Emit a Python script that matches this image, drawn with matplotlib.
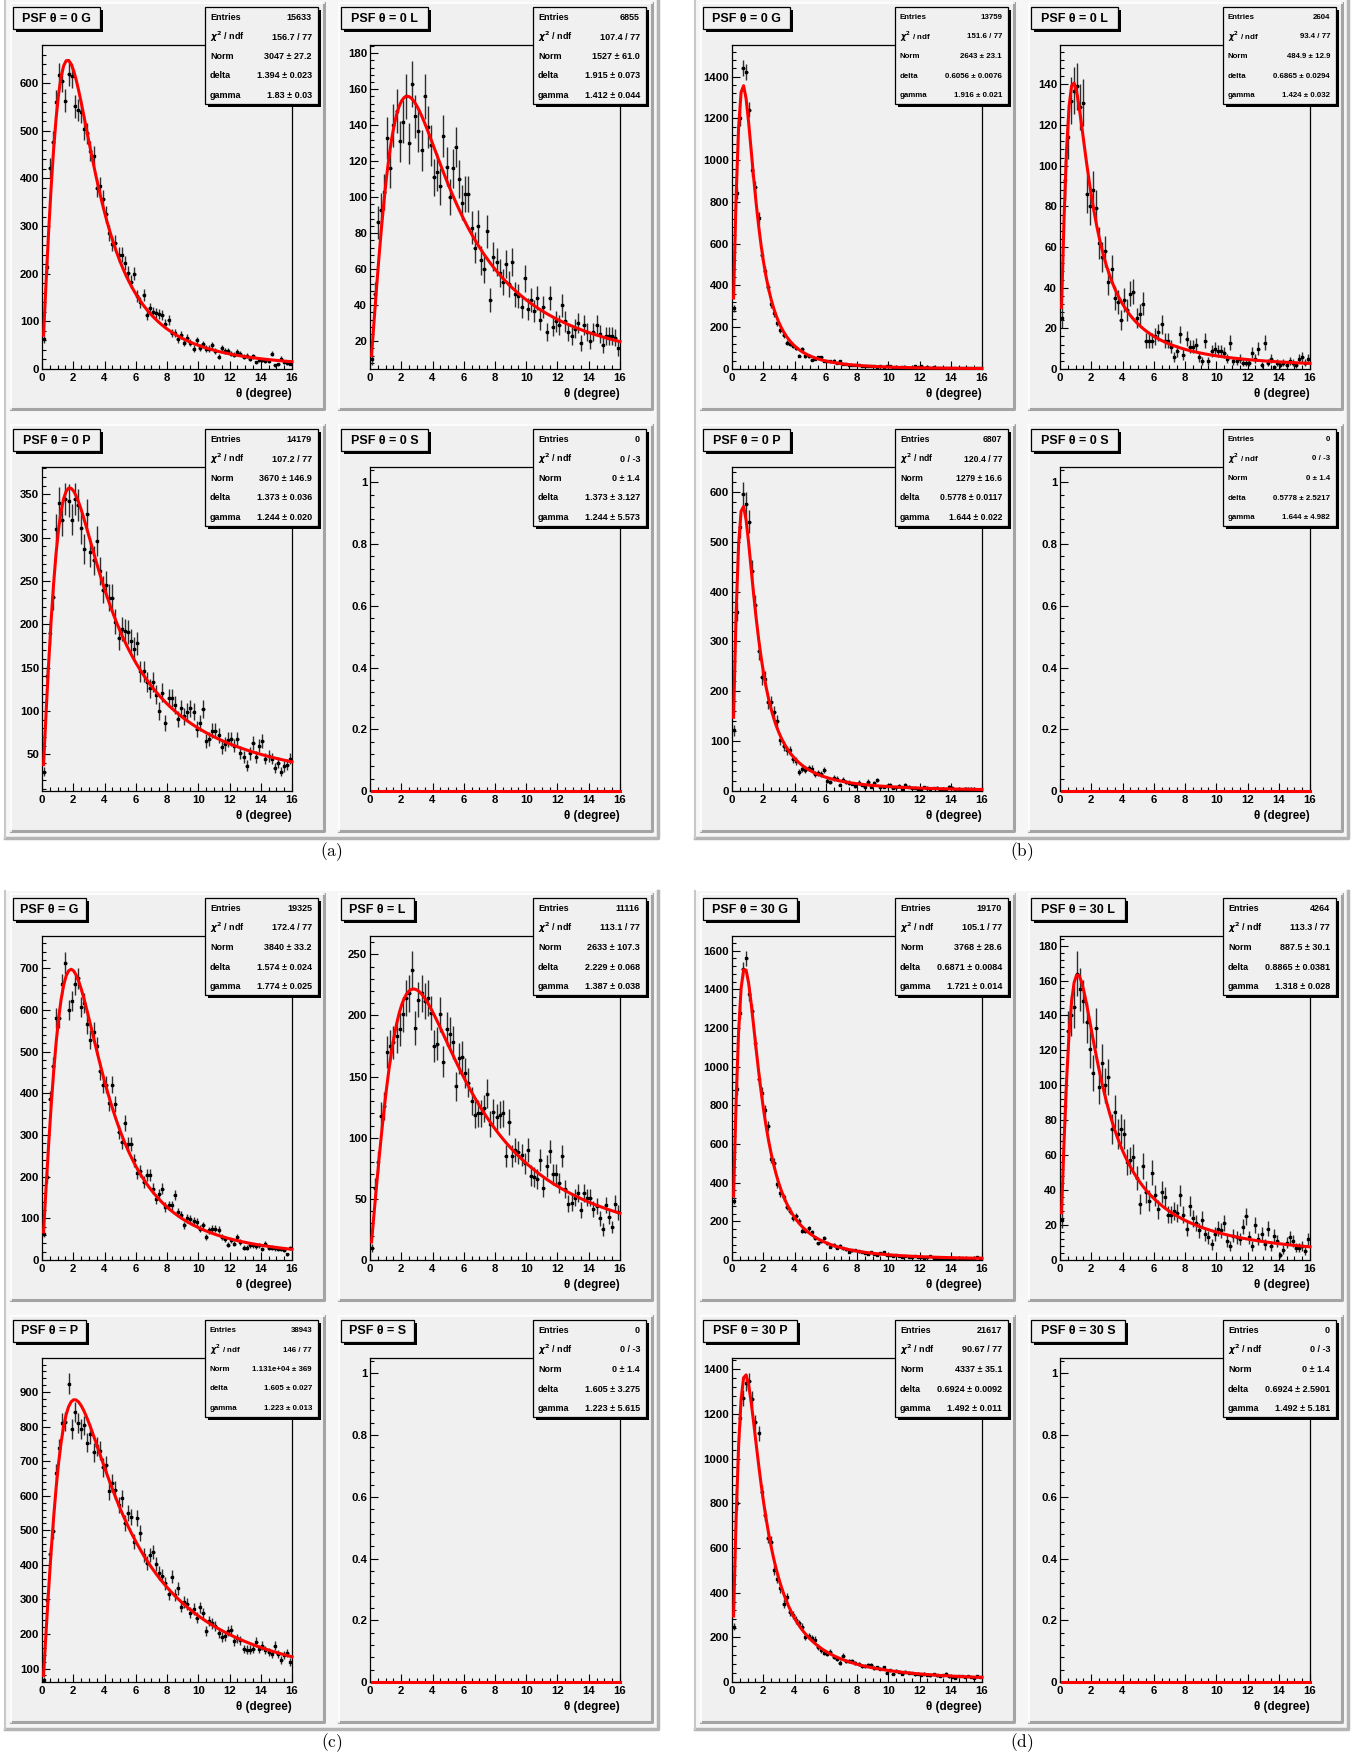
import numpy as np
import matplotlib
matplotlib.use('Agg')
import matplotlib.pyplot as plt
from matplotlib.patches import Rectangle
from matplotlib.lines import Line2D
from matplotlib.ticker import MultipleLocator, AutoMinorLocator, FuncFormatter

plt.rcParams['font.family'] = ['Liberation Sans', 'DejaVu Sans']
plt.rcParams['font.weight'] = 'bold'

W, H = 1366, 1754
theta_bins = np.arange(80) * 0.2 + 0.1    # bin centres, 0.2 deg bins from 0 to 16

# ---------------- data (80 bins per histogram) ----------------
counts_a_G = [62, 215, 422, 477, 561, 617, 605, 563, 619, 615,
              551, 543, 540, 503, 495, 457, 447, 380, 384, 357,
              325, 285, 263, 264, 240, 240, 222, 202, 183, 200,
              153, 140, 155, 113, 128, 120, 118, 116, 113, 95,
              103, 76, 76, 62, 72, 55, 66, 55, 43, 60,
              45, 52, 43, 43, 50, 38, 26, 44, 38, 38,
              32, 30, 36, 32, 26, 28, 22, 27, 14, 18,
              18, 16, 16, 32, 8, 10, 22, 15, 12, 11]
counts_a_L = [10, 46, 86, 93, 103, 133, 116, 140, 148, 131,
              142, 156, 130, 163, 145, 137, 126, 156, 139, 129,
              111, 114, 106, 134, 117, 100, 116, 128, 110, 97,
              102, 102, 83, 72, 84, 65, 60, 81, 43, 67,
              64, 58, 53, 63, 52, 64, 46, 45, 39, 55,
              38, 43, 37, 44, 32, 39, 25, 44, 28, 31,
              29, 40, 31, 25, 23, 27, 30, 19, 29, 25,
              20, 25, 29, 24, 18, 23, 23, 23, 22, 16]
counts_a_P = [30, 140, 190, 232, 310, 340, 320, 345, 343, 321,
              345, 338, 311, 287, 327, 283, 274, 296, 262, 240,
              246, 231, 231, 203, 184, 195, 192, 191, 181, 172,
              178, 146, 146, 133, 126, 134, 119, 100, 121, 86,
              115, 115, 107, 91, 103, 94, 99, 103, 99, 79,
              86, 102, 65, 68, 77, 77, 72, 58, 62, 67,
              68, 60, 68, 52, 47, 37, 51, 63, 47, 60,
              65, 45, 48, 45, 34, 40, 30, 36, 38, 45]
counts_b_G = [290, 845, 1200, 1440, 1424, 1243, 952, 870, 723, 547,
              470, 392, 312, 267, 219, 187, 163, 126, 120, 110,
              102, 64, 96, 62, 62, 43, 48, 56, 56, 40,
              38, 36, 40, 30, 38, 25, 22, 18, 20, 17,
              20, 15, 14, 12, 13, 12, 10, 14, 9, 13,
              15, 7, 8, 6, 9, 11, 6, 7, 12, 10,
              12, 6, 9, 5, 8, 6, 4, 5, 6, 3,
              5, 4, 3, 5, 4, 3, 4, 2, 3, 4]
counts_b_L = [25, 93, 114, 132, 137, 139, 129, 131, 86, 80,
              88, 79, 62, 55, 58, 43, 49, 35, 33, 24,
              34, 29, 37, 38, 25, 27, 32, 14, 14, 14,
              16, 18, 22, 14, 14, 11, 6, 9, 17, 7,
              15, 11, 11, 12, 6, 4, 14, 4, 9, 10,
              9, 9, 8, 5, 13, 4, 4, 5, 3, 3,
              3, 8, 5, 10, 2, 13, 3, 5, 1, 3,
              2, 3, 2, 4, 3, 2, 5, 6, 3, 5]
counts_b_P = [122, 360, 530, 595, 575, 540, 442, 374, 280, 228,
              225, 178, 178, 158, 140, 102, 90, 82, 82, 65,
              60, 38, 45, 42, 46, 45, 35, 36, 34, 42,
              21, 18, 26, 25, 13, 23, 18, 17, 15, 10,
              17, 13, 8, 19, 9, 16, 22, 8, 9, 11,
              12, 7, 8, 10, 5, 12, 9, 6, 7, 4,
              5, 8, 7, 4, 6, 7, 3, 5, 4, 9,
              7, 3, 4, 3, 5, 5, 5, 4, 3, 2]
counts_c_G = [62, 199, 386, 465, 582, 582, 662, 714, 601, 622,
              662, 676, 608, 617, 566, 529, 548, 514, 453, 421,
              421, 377, 421, 375, 307, 283, 329, 279, 279, 239,
              208, 213, 187, 204, 204, 171, 147, 159, 171, 127,
              131, 131, 156, 115, 108, 83, 100, 99, 93, 91,
              75, 83, 55, 71, 75, 75, 73, 55, 51, 37,
              47, 39, 56, 43, 30, 30, 35, 36, 33, 35,
              27, 39, 30, 30, 28, 26, 27, 25, 14, 29]
counts_c_L = [10, 59, 80, 118, 126, 170, 175, 178, 183, 189,
              201, 214, 218, 237, 190, 213, 218, 212, 214, 202,
              175, 177, 201, 162, 189, 185, 178, 142, 165, 166,
              153, 145, 130, 119, 120, 120, 124, 136, 111, 121,
              117, 119, 120, 85, 113, 85, 90, 88, 86, 79,
              90, 69, 68, 66, 82, 59, 77, 89, 70, 70,
              63, 85, 58, 46, 47, 51, 55, 41, 55, 51,
              51, 42, 44, 34, 25, 45, 35, 27, 46, 39]
counts_c_P = [66, 298, 432, 497, 666, 738, 811, 815, 925, 794,
              843, 811, 794, 804, 753, 779, 726, 743, 731, 682,
              688, 614, 637, 617, 574, 593, 521, 550, 540, 467,
              537, 492, 429, 405, 429, 438, 402, 376, 369, 347,
              315, 366, 313, 332, 279, 293, 286, 262, 272, 247,
              277, 260, 208, 238, 231, 224, 204, 192, 194, 208,
              211, 179, 187, 182, 156, 155, 155, 156, 177, 156,
              166, 153, 148, 141, 166, 141, 124, 139, 144, 119]
counts_d_G = [307, 883, 1280, 1503, 1560, 1378, 1288, 1124, 938, 864,
              774, 693, 523, 503, 394, 345, 325, 273, 256, 216,
              230, 204, 152, 152, 164, 143, 114, 86, 100, 112,
              86, 69, 78, 64, 74, 60, 55, 40, 50, 52,
              45, 40, 35, 32, 40, 30, 28, 35, 40, 26,
              25, 22, 24, 20, 18, 20, 15, 16, 22, 14,
              15, 12, 13, 20, 12, 10, 12, 9, 11, 8,
              10, 7, 9, 8, 6, 7, 5, 8, 14, 12]
counts_d_L = [23, 88, 131, 140, 145, 164, 155, 148, 136, 121,
              107, 133, 99, 113, 100, 105, 75, 85, 72, 75,
              72, 56, 57, 59, 47, 32, 54, 39, 34, 50,
              37, 29, 39, 36, 26, 26, 28, 27, 37, 26,
              18, 31, 24, 21, 17, 23, 15, 13, 9, 15,
              18, 17, 21, 11, 8, 14, 13, 12, 19, 25,
              13, 8, 20, 12, 15, 9, 18, 8, 14, 11,
              3, 6, 10, 13, 11, 7, 7, 8, 5, 12]
counts_d_P = [247, 800, 1180, 1273, 1340, 1345, 1267, 1163, 1113, 852,
              747, 646, 628, 501, 463, 419, 351, 381, 314, 299,
              277, 262, 247, 202, 206, 197, 190, 157, 142, 130,
              127, 135, 112, 102, 87, 117, 95, 93, 95, 85,
              80, 72, 70, 78, 75, 62, 65, 60, 65, 42,
              52, 36, 50, 45, 38, 45, 42, 40, 35, 38,
              32, 38, 33, 30, 34, 30, 28, 30, 38, 25,
              22, 18, 25, 28, 24, 26, 22, 18, 25, 23]

# titles and fit statistics, order G, L, P, S in each group
titles_a = ['PSF θ = 0 G', 'PSF θ = 0 L', 'PSF θ = 0 P', 'PSF θ = 0 S']
entries_a = ['15633', '6855', '14179', '0']
chi2_a = ['156.7 / 77', '107.4 / 77', '107.2 / 77', '0 / -3']
norm_a = ['3047 ± 27.2', '1527 ± 61.0', '3670 ± 146.9', '0 ± 1.4']
delta_a = ['1.394 ± 0.023', '1.915 ± 0.073', '1.373 ± 0.036', '1.373 ± 3.127']
gamma_a = ['1.83 ± 0.03', '1.412 ± 0.044', '1.244 ± 0.020', '1.244 ± 5.573']

titles_b = ['PSF θ = 0 G', 'PSF θ = 0 L', 'PSF θ = 0 P', 'PSF θ = 0 S']
entries_b = ['13759', '2604', '6807', '0']
chi2_b = ['151.6 / 77', '93.4 / 77', '120.4 / 77', '0 / -3']
norm_b = ['2643 ± 23.1', '484.9 ± 12.9', '1279 ± 16.6', '0 ± 1.4']
delta_b = ['0.6056 ± 0.0076', '0.6865 ± 0.0294', '0.5778 ± 0.0117', '0.5778 ± 2.5217']
gamma_b = ['1.916 ± 0.021', '1.424 ± 0.032', '1.644 ± 0.022', '1.644 ± 4.982']

titles_c = ['PSF θ = G', 'PSF θ = L', 'PSF θ = P', 'PSF θ = S']
entries_c = ['19325', '11116', '38943', '0']
chi2_c = ['172.4 / 77', '113.1 / 77', '146 / 77', '0 / -3']
norm_c = ['3840 ± 33.2', '2633 ± 107.3', '1.131e+04 ± 369', '0 ± 1.4']
delta_c = ['1.574 ± 0.024', '2.229 ± 0.068', '1.605 ± 0.027', '1.605 ± 3.275']
gamma_c = ['1.774 ± 0.025', '1.387 ± 0.038', '1.223 ± 0.013', '1.223 ± 5.615']

titles_d = ['PSF θ = 30 G', 'PSF θ = 30 L', 'PSF θ = 30 P', 'PSF θ = 30 S']
entries_d = ['19170', '4264', '21617', '0']
chi2_d = ['105.1 / 77', '113.3 / 77', '90.67 / 77', '0 / -3']
norm_d = ['3768 ± 28.6', '887.5 ± 30.1', '4337 ± 35.1', '0 ± 1.4']
delta_d = ['0.6871 ± 0.0084', '0.8865 ± 0.0381', '0.6924 ± 0.0092', '0.6924 ± 2.5901']
gamma_d = ['1.721 ± 0.014', '1.318 ± 0.028', '1.492 ± 0.011', '1.492 ± 5.181']

counts_a = [counts_a_G, counts_a_L, counts_a_P, None]
counts_b = [counts_b_G, counts_b_L, counts_b_P, None]
counts_c = [counts_c_G, counts_c_L, counts_c_P, None]
counts_d = [counts_d_G, counts_d_L, counts_d_P, None]

# axis ranges as drawn
ylims_a = [(0, 680), (4.6, 184.6), (7.6, 381.7), (0, 1.05)]
ylims_b = [(0, 1552), (0, 159.4), (0, 650), (0, 1.05)]
ylims_c = [(0, 778), (0, 265), (61, 999), (0, 1.05)]
ylims_d = [(0, 1676), (0, 185.5), (0, 1450), (0, 1.05)]
ysteps_a = [100, 20, 50, 0.2]
ysteps_b = [200, 20, 100, 0.2]
ysteps_c = [100, 50, 100, 0.2]
ysteps_d = [200, 20, 200, 0.2]

# ---------------- layout helpers (pixel coordinates, origin top left) ----------------
PAD_W, PAD_H = 313, 406
PAD_COLOR = '#f0f0f0'

fig = plt.figure(figsize=(W / 100, H / 100), dpi=100)
fig.patch.set_facecolor('white')


def frect(x, y, w, h):
    return [x / W, 1 - (y + h) / H, w / W, h / H]


def add_rect(x, y, w, h, **kw):
    fig.add_artist(Rectangle((x / W, 1 - (y + h) / H), w / W, h / H,
                             transform=fig.transFigure, **kw))


def add_line(xs, ys, **kw):
    fig.add_artist(Line2D([x / W for x in xs], [1 - y / H for y in ys],
                          transform=fig.transFigure, **kw))


def add_text(x, y, s, **kw):
    fig.text(x / W, 1 - y / H, s, **kw)


def king(th, norm, delta, gamma):
    # PSF fit function: counts per bin vs angle
    return norm * th * (1 - 1 / gamma) / delta ** 2 * (1 + th ** 2 / (2 * gamma * delta ** 2)) ** (-gamma)


def value(txt):
    return float(txt.split('±')[0])


def draw_panel(px, py, title, counts, stats, ylim, ystep, stat_fs):
    # pad with bevel
    add_rect(px, py, PAD_W, PAD_H, facecolor=PAD_COLOR, edgecolor='none', zorder=-2)
    add_line([px + PAD_W, px + PAD_W, px], [py, py + PAD_H, py + PAD_H],
             color='#a4a4a4', lw=2.2, zorder=-1)
    add_line([px, px, px + PAD_W], [py + PAD_H, py, py], color='white', lw=1.2, zorder=-1)

    ax = fig.add_axes(frect(px + 31, py + 42, 250, 324))
    ax.set_facecolor(PAD_COLOR)
    for sp in ax.spines.values():
        sp.set_linewidth(0.9)

    if counts is not None:
        c = np.asarray(counts, dtype=float)
        ax.errorbar(theta_bins, c, yerr=np.sqrt(c), xerr=0.1, fmt='s', ms=1.6,
                    color='black', ecolor='#2e2e2e', elinewidth=1.0, capsize=0, zorder=2)

    norm, delta, gamma = value(stats[2]), value(stats[3]), value(stats[4])
    th = np.linspace(0.1, 16, 100)
    ax.plot(th, king(th, norm, delta, gamma), color='red', lw=2.2, zorder=3, clip_on=False)

    ax.set_xlim(0, 16)
    ax.set_ylim(*ylim)
    ax.xaxis.set_major_locator(MultipleLocator(2))
    ax.xaxis.set_minor_locator(AutoMinorLocator(4))
    ax.yaxis.set_major_locator(MultipleLocator(ystep))
    ax.yaxis.set_minor_locator(AutoMinorLocator(5))
    ax.yaxis.set_major_formatter(FuncFormatter(lambda v, p: f'{v:g}'))
    ax.tick_params(which='both', direction='in', top=False, right=False, labelsize=8.2)
    ax.tick_params(which='major', length=6, width=0.8)
    ax.tick_params(which='minor', length=3, width=0.8)
    ax.tick_params(axis='x', pad=3)
    ax.tick_params(axis='y', pad=2)
    ax.text(1.0, -25 / 324, 'θ (degree)', transform=ax.transAxes, ha='right', va='center',
            fontsize=8.4)

    # title box with shadow
    tw = 10 + 7 * len(title)
    add_rect(px + 5, py + 7, tw, 22, facecolor='black', edgecolor='none', zorder=5)
    add_rect(px + 2, py + 4, tw, 22, facecolor=PAD_COLOR, edgecolor='black', lw=0.9, zorder=6)
    add_text(px + 2 + tw / 2, py + 15.5, title, ha='center', va='center', fontsize=9, zorder=7)

    # statistics box with shadow
    bx, by, bw, bh = px + 194, py + 4, 113, 97
    add_rect(bx + 3, by + 3, bw, bh, facecolor='black', edgecolor='none', zorder=5)
    add_rect(bx, by, bw, bh, facecolor=PAD_COLOR, edgecolor='black', lw=0.9, zorder=6)
    labels = ['Entries', r'$\chi^2$ / ndf', 'Norm', 'delta', 'gamma']
    for i, (lab, val) in enumerate(zip(labels, stats)):
        yy = by + 10.5 + 19.5 * i
        add_text(bx + 5, yy, lab, ha='left', va='center', fontsize=stat_fs, zorder=7)
        add_text(bx + bw - 6, yy, val, ha='right', va='center', fontsize=stat_fs, zorder=7)


groups = [
    (5, 0, '(a)', titles_a, counts_a, entries_a, chi2_a, norm_a, delta_a, gamma_a, ylims_a, ysteps_a,
     [6.5, 6.5, 6.5, 6.5]),
    (695, 0, '(b)', titles_b, counts_b, entries_b, chi2_b, norm_b, delta_b, gamma_b, ylims_b, ysteps_b,
     [5.7, 5.7, 6.2, 5.7]),
    (5, 891, '(c)', titles_c, counts_c, entries_c, chi2_c, norm_c, delta_c, gamma_c, ylims_c, ysteps_c,
     [6.5, 6.5, 5.7, 6.5]),
    (695, 891, '(d)', titles_d, counts_d, entries_d, chi2_d, norm_d, delta_d, gamma_d, ylims_d, ysteps_d,
     [6.5, 6.5, 6.5, 6.5]),
]

pad_offsets = [(6, 3), (334, 3), (6, 425), (334, 425)]

for gx, gy, cap, titles, cnts, ent, chi, nor, dlt, gam, ylims, ysteps, fss in groups:
    gw, gh = 653, 838
    add_rect(gx, gy, gw, gh, facecolor='#f6f6f6', edgecolor='none', zorder=-3)
    add_line([gx + gw, gx + gw, gx], [gy, gy + gh, gy + gh], color='#b4b4b4', lw=2.5, zorder=-1)
    add_line([gx, gx], [gy, gy + gh], color='#c8c8c8', lw=1.5, zorder=-1)
    for k in range(4):
        ox, oy = pad_offsets[k]
        stats = [ent[k], chi[k], nor[k], dlt[k], gam[k]]
        draw_panel(gx + ox, gy + oy, titles[k], cnts[k], stats, ylims[k], ysteps[k], fss[k])
    add_text(gx + gw / 2, gy + gh + 2, r'$\mathrm{' + cap + '}$', ha='center', va='top',
             fontsize=12.5, math_fontfamily='cm')

fig.savefig('out.png', dpi=100, facecolor=fig.get_facecolor())
